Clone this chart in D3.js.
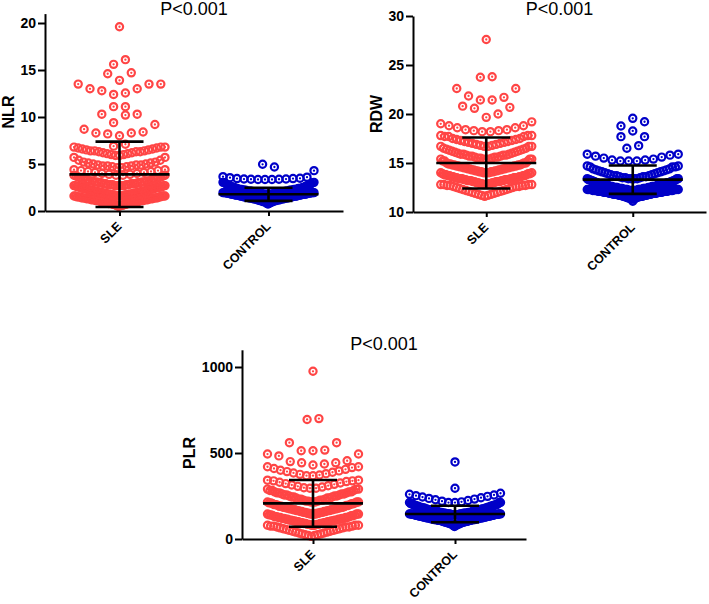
<!DOCTYPE html>
<html>
<head>
<meta charset="utf-8">
<script src="https://cdn.jsdelivr.net/npm/d3@7"></script>
<style>
  html, body { margin: 0; padding: 0; background: #fff; }
  svg { display: block; }
  text { font-family: "Liberation Sans", Arial, sans-serif; }
</style>
</head>
<body>
<svg id="chart" width="709" height="604"></svg>
<script>
// ---------------- DATA ----------------
const categories = ["SLE", "CONTROL"];
const pValues = ["P<0.001", "P<0.001", "P<0.001"];
const axisLabels = ["NLR", "RDW", "PLR"];
const nlrTicks = [0, 5, 10, 15, 20];
const rdwTicks = [10, 15, 20, 25, 30];
const plrTicks = [0, 500, 1000];

// each row: entries listed from the centre outwards; number = one dot, [value, count] = count dots
const nlrSLE = [
  [[0.5,2],[0.6,3],[0.7,4],[0.8,5],[0.9,5],[1.0,6],[1.1,6],[1.2,6],[1.3,6],[1.4,6],[1.5,5],[1.6,5]],
  [[1.6,6],[1.7,6],[1.8,6],[1.9,6],[2.0,6],[2.1,6],[2.2,5],[2.3,5],[2.4,5],[2.5,5],[2.6,4],[2.7,4]],
  [[2.7,5],[2.8,5],[2.9,5],[3.0,4],[3.1,4],[3.2,4],[3.3,3],[3.4,3],[3.5,2],[3.6,2],[3.7,2],[3.8,2]],
  [[3.8,2],[3.9,2],[4.0,2],[4.1,2],[4.2,2],[4.3,2],[4.4,2]],
  [[4.6,2],[4.7,2],[4.8,3],[4.9,3],[5.0,2],[5.1,2],[5.2,2],[5.4,2],[5.7,2]],
  [[5.9,2],[6.0,2],[6.1,2],[6.2,2],[6.3,3],[6.4,3],[6.5,2],[6.6,2],[6.7,2],[6.8,3]],
  [6.9, 7.1],
  [8.0, 8.2, 8.3, 8.3, 8.4, 8.7, 9.2],
  [9.4, 10.2, 10.3, 10.3],
  [11.1, 11.1],
  [12.4, 12.55, 12.8, 13.0, 13.0, 13.5, 13.5, 13.5],
  [13.9, 14.6, 14.7],
  [15.6, 16.1],
  [19.6]
];
const nlrCTL = [
  [[0.75,1],[0.8,2],[0.9,3],[1.0,5],[1.1,6],[1.2,7],[1.3,8],[1.4,8],[1.5,9],[1.6,9],[1.7,9],[1.8,9],[1.9,8],[1.95,8]],
  [[1.8,8],[1.9,8],[2.0,7],[2.1,7],[2.2,6],[2.3,6],[2.4,5],[2.5,4],[2.6,3],[2.7,3],[2.8,2],[2.9,2],[3.0,2],[3.05,2]],
  [[3.35,3],[3.38,2],[3.4,2],[3.45,2],[3.48,1],[3.55,1],[3.6,1],[3.65,1],[4.29,1]],
  [4.97, 4.68]
];
const rdwSLE = [
  [[11.6,1],[11.7,2],[11.8,2],[11.9,2],[12.0,2],[12.1,2],[12.2,2],[12.3,2],[12.4,2],[12.5,2],[12.6,3],[12.7,4],[12.8,4]],
  [[12.8,3],[12.9,4],[13.0,4],[13.1,5],[13.2,5],[13.3,5],[13.4,5],[13.5,5],[13.6,4],[13.7,4],[13.8,3],[13.9,3],[14.0,2]],
  [[14.0,4],[14.1,4],[14.2,4],[14.3,4],[14.4,4],[14.5,4],[14.6,4],[14.7,4],[14.8,4],[14.9,3],[15.0,3],[15.2,3],[15.4,3]],
  [[15.4,3],[15.5,3],[15.6,3],[15.7,3],[15.8,3],[15.9,3],[16.0,2],[16.1,2],[16.2,2],[16.3,2],[16.4,2],[16.5,2],[16.7,3]],
  [[16.7,2],[16.8,2],[16.9,2],[17.0,2],[17.1,2],[17.2,2],[17.3,2],[17.4,2],[17.5,2],[17.7,3],[17.8,3]],
  [[18.2,2],[18.3,2],[18.4,2],[18.6,2],[18.8,2],[19.0,1],[19.2,1]],
  [19.66, 20.58, 20.0, 20.8, 20.68],
  [21.43, 21.43, 21.84, 21.7, 22.6, 22.6],
  [23.75, 23.8],
  [27.6]
];
const rdwCTL = [
  [[11.1,1],[11.3,2],[11.4,3],[11.5,4],[11.6,5],[11.7,6],[11.8,7],[11.9,7],[12.0,8],[12.1,8],[12.2,8],[12.3,8]],
  [[12.2,8],[12.3,8],[12.4,8],[12.5,7],[12.6,7],[12.7,6],[12.8,6],[12.9,5],[13.0,5],[13.1,4],[13.2,4],[13.3,3],[13.4,3]],
  [[13.4,4],[13.5,3],[13.6,3],[13.7,3],[13.8,2],[13.9,2],[14.0,2],[14.1,2],[14.2,2],[14.3,2],[14.4,2],[14.6,3],[14.7,2]],
  [[15.2,3],[15.3,2],[15.4,1],[15.5,1],[15.6,1],[15.7,1],[15.8,1],[15.9,2]],
  [16.5, 16.77],
  [18.27, 17.69, 17.69],
  [19.56, 18.78, 19.21]
];
const plrSLE = [
  [[15,1],[20,2],[25,2],[30,2],[35,2],[40,2],[45,2],[50,2],[55,2],[60,2],[65,2],[70,3],[75,3],[80,3]],
  [[80,3],[85,4],[90,4],[95,4],[100,4],[105,4],[110,4],[115,4],[120,4],[125,4],[130,3],[135,3],[140,3],[145,3]],
  [[145,4],[150,4],[155,4],[160,4],[165,4],[170,4],[175,4],[180,4],[185,4],[190,3],[195,3],[200,3],[205,3],[210,3],[215,3]],
  [[215,3],[220,3],[226,3],[232,3],[238,3],[244,3],[250,3],[256,3],[262,3],[268,3],[274,3],[282,3],[290,3]],
  [[295,2],[298,1],[302,1],[306,1],[310,1],[314,1],[318,1],[322,1],[326,1],[330,1],[334,1],[338,2],[342,2]],
  [[368,2],[372,1],[376,1],[380,1],[384,1],[388,1],[392,1],[396,1],[400,1],[405,1],[410,1],[415,1],[420,2]],
  [430, 443, 436, 450, 443, 483, 455, 494, 494],
  [513, 513, 517, 560, 560],
  [695, 700],
  [975]
];
const plrCTL = [
  [[73,1],[78,2],[83,3],[88,4],[93,5],[98,6],[103,7],[108,7],[113,8],[118,8],[123,8],[128,8],[133,8],[138,8],[143,7],[146,6]],
  [[140,7],[145,7],[150,7],[155,6],[160,6],[165,6],[170,5],[175,5],[180,5],[185,4],[190,4],[195,4],[200,3],[206,3],[212,3]],
  [[212,2],[216,1],[220,1],[224,1],[228,1],[232,1],[236,1],[240,1],[244,1],[248,1],[252,1],[256,1],[260,1],[266,1]],
  [295],
  [448]
];
// mean, SD
const nlrStats = [[3.9, 3.48], [1.78, 0.7]];
const rdwStats = [[15.0, 2.6], [13.3, 1.45]];
const plrStats = [[207, 136], [145, 48]];

// ---------------- DRAWING ----------------
const colors = ["#ff4545", "#0000c8"];
const svg = d3.select("#chart");

const panels = [
  { title: pValues[0], label: axisLabels[0], ticks: nlrTicks, domain: [0, 21], yr: [211, 13.6], xr: [45, 343],
    groups: [nlrSLE, nlrCTL], stats: nlrStats, titleY: 15, labelX: 13.5, labelY: 112 },
  { title: pValues[1], label: axisLabels[1], ticks: rdwTicks, domain: [10, 30], yr: [212, 16], xr: [413, 706],
    groups: [rdwSLE, rdwCTL], stats: rdwStats, titleY: 15, labelX: 382, labelY: 114 },
  { title: pValues[2], label: axisLabels[2], ticks: plrTicks, domain: [0, 1100], yr: [539, 349.8], xr: [242, 526],
    groups: [plrSLE, plrCTL], stats: plrStats, titleY: 350, labelX: 195, labelY: 453 }
];

function layoutRows(rows, cx, y) {
  const pts = [];
  rows.forEach(row => {
    const vals = [];
    row.forEach(e => {
      if (Array.isArray(e)) { for (let i = 0; i < e[1]; i++) vals.push(e[0]); }
      else vals.push(e);
    });
    const n = vals.length;
    const s = n > 1 ? Math.min(11.8, 91 / (n - 1)) : 0;
    const slots = d3.range(n).map(i => (i - (n - 1) / 2) * s);
    slots.sort((a, b) => (Math.abs(a) - Math.abs(b)) || (a - b));
    vals.forEach((v, i) => pts.push({ x: cx + slots[i], y: y(v) }));
  });
  return pts;
}

panels.forEach(p => {
  const g = svg.append("g");
  const y = d3.scaleLinear().domain(p.domain).range(p.yr);
  const x = d3.scalePoint().domain(categories).range(p.xr).padding(0.5);

  // dots
  p.groups.forEach((rows, gi) => {
    const pts = layoutRows(rows, x(categories[gi]), y);
    const dg = g.append("g");
    dg.selectAll("circle.ring").data(pts).join("circle")
      .attr("class", "ring")
      .attr("cx", d => d.x).attr("cy", d => d.y).attr("r", 3.6)
      .attr("fill", "none").attr("stroke", colors[gi]).attr("stroke-width", 2.2);
    dg.selectAll("circle.dot").data(pts).join("circle")
      .attr("class", "dot")
      .attr("cx", d => d.x).attr("cy", d => d.y).attr("r", 1.15)
      .attr("fill", colors[gi]);
  });

  // mean +/- SD bars
  p.stats.forEach((st, gi) => {
    const cx = x(categories[gi]);
    const [m, sd] = st;
    const eb = g.append("g").attr("stroke", "#000").attr("stroke-width", 2.6);
    eb.append("line").attr("x1", cx).attr("x2", cx).attr("y1", y(m - sd)).attr("y2", y(m + sd));
    eb.append("line").attr("x1", cx - 50).attr("x2", cx + 50).attr("y1", y(m)).attr("y2", y(m));
    eb.append("line").attr("x1", cx - 24).attr("x2", cx + 24).attr("y1", y(m + sd)).attr("y2", y(m + sd));
    eb.append("line").attr("x1", cx - 24).attr("x2", cx + 24).attr("y1", y(m - sd)).attr("y2", y(m - sd));
  });

  // y axis
  const ya = g.append("g").attr("transform", `translate(${p.xr[0]},0)`)
    .call(d3.axisLeft(y).tickValues(p.ticks).tickFormat(d3.format("d")).tickSize(7).tickSizeOuter(0).tickPadding(2));
  ya.selectAll("path, line").attr("stroke", "#000").attr("stroke-width", 2);
  ya.selectAll("text").attr("font-size", 14).attr("font-weight", "bold").attr("fill", "#000")
    .attr("font-family", '"Liberation Sans", Arial, sans-serif');

  // x axis
  const xa = g.append("g").attr("transform", `translate(0,${p.yr[0]})`)
    .call(d3.axisBottom(x).tickSize(5).tickSizeOuter(0));
  xa.selectAll("path, line").attr("stroke", "#000").attr("stroke-width", 2);
  xa.selectAll("text").remove();
  categories.forEach(c => {
    const cx = x(c);
    g.append("text")
      .attr("transform", `translate(${cx + 3},${p.yr[0] + 16}) rotate(-45)`)
      .attr("text-anchor", "end")
      .attr("font-size", 12.5).attr("font-weight", "bold").attr("fill", "#000")
      .text(c);
  });

  // y label
  g.append("text")
    .attr("transform", `translate(${p.labelX},${p.labelY}) rotate(-90)`)
    .attr("text-anchor", "middle")
    .attr("font-size", 16).attr("font-weight", "bold").attr("fill", "#000")
    .text(p.label);

  // title
  g.append("text")
    .attr("x", (p.xr[0] + p.xr[1]) / 2).attr("y", p.titleY)
    .attr("text-anchor", "middle")
    .attr("font-size", 18).attr("fill", "#000")
    .text(p.title);
});
</script>
</body>
</html>
